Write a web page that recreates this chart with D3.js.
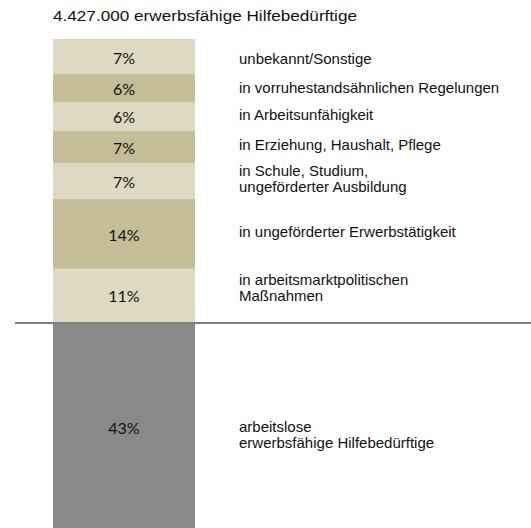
<!DOCTYPE html>
<html>
<head>
<meta charset="utf-8">
<script src="https://cdn.jsdelivr.net/npm/d3@7"></script>
<style>
    body { margin: 0; background: #fff; }
</style>
</head>
<body>
<div id="chart"></div>
<script>

    const WIDTH = 531;
    const HEIGHT = 528;

    // data (top to bottom)
    const title = "4.427.000 erwerbsfähige Hilfebedürftige";
    const shares = [7.2, 5.7, 5.9, 6.6, 7.4, 14.3, 10.9, 43];
    const shareLabels = ["7%", "6%", "6%", "7%", "7%", "14%", "11%", "43%"];
    const categories = [
        ["unbekannt/Sonstige"],
        ["in vorruhestandsähnlichen Regelungen"],
        ["in Arbeitsunfähigkeit"],
        ["in Erziehung, Haushalt, Pflege"],
        ["in Schule, Studium,", "ungeförderter Ausbildung"],
        ["in ungeförderter Erwerbstätigkeit"],
        ["in arbeitsmarktpolitischen", "Maßnahmen"],
        ["arbeitslose", "erwerbsfähige Hilfebedürftige"]
    ];

    // styling
    const FILLS = ["#ddd9c3", "#c4bd97", "#ddd9c3", "#c4bd97", "#ddd9c3", "#c4bd97", "#ddd9c3", "#898989"];
    const LABEL_NUDGE = [2, 0, -1, -2, -2, -2, -7, 8];   // vertical tweak of the text boxes
    const BAR_X = 53, BAR_W = 142;
    const TOP = 39;
    const LABEL_X = 239;

    var svg = d3.select("#chart").append("svg")
        .attr("width", WIDTH)
        .attr("height", HEIGHT);

    // stack the shares
    var starts = [];
    var acc = 0;
    shares.forEach(function (v) { starts.push(acc); acc += v; });

    var y = d3.scaleLinear()
        .domain([0, 58])
        .range([TOP, 322]);

    function mid(i) {
        return (y(starts[i]) + y(starts[i] + shares[i])) / 2;
    }

    // title
    svg.append("text")
        .attr("x", 53)
        .attr("y", 21)
        .attr("font-family", "Liberation Sans, Arial, sans-serif")
        .attr("font-size", 14)
        .attr("fill", "#111")
        .attr("textLength", 304)
        .attr("lengthAdjust", "spacingAndGlyphs")
        .text(title);

    var seg = svg.selectAll("g.seg")
        .data(shares)
        .enter().append("g")
        .attr("class", "seg");

    seg.append("rect")
        .attr("x", BAR_X)
        .attr("width", BAR_W)
        .attr("y", function (d, i) { return y(starts[i]); })
        .attr("height", function (d, i) { return y(starts[i] + d) - y(starts[i]); })
        .attr("fill", function (d, i) { return FILLS[i]; });

    seg.append("text")
        .attr("x", BAR_X + BAR_W / 2)
        .attr("y", function (d, i) { return mid(i) + 7; })
        .attr("text-anchor", "middle")
        .attr("font-family", "Lato, Carlito, Calibri, sans-serif")
        .attr("font-size", 16)
        .attr("fill", "#111")
        .text(function (d, i) { return shareLabels[i]; });

    // category labels right of the bar
    seg.append("text")
        .attr("font-family", "Liberation Sans, Arial, sans-serif")
        .attr("font-size", 15)
        .attr("fill", "#111")
        .attr("y", function (d, i) {
            return mid(i) + 5 - (categories[i].length - 1) * 8 + LABEL_NUDGE[i];
        })
        .selectAll("tspan")
        .data(function (d, i) { return categories[i]; })
        .enter().append("tspan")
        .attr("x", LABEL_X)
        .attr("dy", function (d, j) { return j == 0 ? 0 : 16; })
        .text(function (d) { return d; });

    // separator line
    svg.append("line")
        .attr("x1", 15)
        .attr("x2", WIDTH)
        .attr("y1", y(58) + 1)
        .attr("y2", y(58) + 1)
        .style("stroke", "#808080")
        .attr("stroke-width", 2);

</script>
</body>
</html>
